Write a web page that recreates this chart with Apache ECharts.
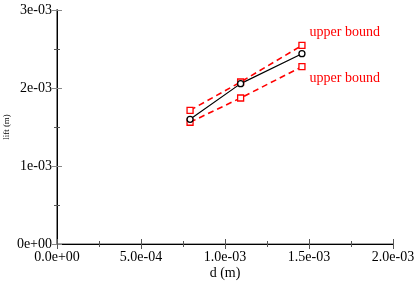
<!DOCTYPE html>
<html><head><meta charset="utf-8">
<script src="https://cdn.jsdelivr.net/npm/echarts@6/dist/echarts.min.js"></script>
<style>html,body{margin:0;padding:0;background:#fff}#c{width:415px;height:281px}</style>
</head><body><div id="c"></div>
<script>
const dValues = [7.92e-4, 1.093e-3, 1.458e-3];
const liftMean = [1.599e-3, 2.056e-3, 2.440e-3];
const liftUpper = [1.714e-3, 2.077e-3, 2.546e-3];
const liftLower = [1.561e-3, 1.872e-3, 2.273e-3];
const xTickLabels = ['0.0e+00', '5.0e-04', '1.0e-03', '1.5e-03', '2.0e-03'];
const yTickLabels = ['0e+00', '1e-03', '2e-03', '3e-03'];
const boundLabels = ['upper bound', 'upper bound'];

const font = 'Liberation Serif';
const chart = echarts.init(document.getElementById('c'));
function pairs(ys){ return dValues.map((d,i)=>[d, ys[i]]); }
const baseX = {
  type:'value', min:0, max:2e-3, interval:5e-4,
  axisTick:{show:true, inside:true, length:5, lineStyle:{color:'#555'}},
  minorTick:{show:true, splitNumber:2, length:3, lineStyle:{color:'#555'}},
  splitLine:{show:false}, minorSplitLine:{show:false}
};
const baseY = {
  type:'value', min:0, max:3e-3, interval:1e-3,
  axisTick:{show:true, inside:true, length:5, lineStyle:{color:'#888'}},
  minorTick:{show:true, splitNumber:2, length:3, lineStyle:{color:'#555'}},
  splitLine:{show:false}, minorSplitLine:{show:false}
};
chart.setOption({
  animation:false,
  backgroundColor:'#fff',
  grid:{left:57, right:22, top:10, bottom:37, containLabel:false, outerBoundsMode:'none'},
  xAxis:[
    Object.assign({}, baseX, {position:'bottom', name:'d (m)', nameLocation:'middle', nameGap:22,
      nameMoveOverlap:false,
      nameTextStyle:{fontFamily:font, fontSize:14, color:'#000'},
      axisLine:{lineStyle:{color:'#888', width:1.5}},
      axisLabel:{fontFamily:font, fontSize:14, color:'#000', margin:6,
        formatter:(v)=>xTickLabels[Math.round(v/5e-4)]}}),
    Object.assign({}, baseX, {position:'top', axisLine:{lineStyle:{color:'#000', width:1}},
      axisLabel:{show:false}})
  ],
  yAxis:[
    Object.assign({}, baseY, {position:'left', name:'lift (m)', nameLocation:'middle', nameGap:46,
      nameMoveOverlap:false,
      nameTextStyle:{fontFamily:font, fontSize:9, color:'#000'},
      axisLine:{lineStyle:{color:'#888', width:2}},
      axisLabel:{fontFamily:font, fontSize:14, color:'#000', margin:5, padding:[0,0,6,0],
        formatter:(v)=>yTickLabels[Math.round(v/1e-3)]}}),
    Object.assign({}, baseY, {position:'right', axisLine:{lineStyle:{color:'#000', width:1}},
      axisLabel:{show:false}})
  ],
  series:[
    {type:'line', data:pairs(liftUpper), symbol:'rect', symbolSize:6,
      itemStyle:{color:'#fff', borderColor:'#f00', borderWidth:1.3},
      lineStyle:{color:'#f00', width:1.6, type:[6,4]},
      label:{show:true, formatter:(p)=>p.dataIndex===2?boundLabels[0]:'', position:'right',
        offset:[-1,-13], fontFamily:font, fontSize:14, color:'#f00'}},
    {type:'line', data:pairs(liftLower), symbol:'rect', symbolSize:6,
      itemStyle:{color:'#fff', borderColor:'#f00', borderWidth:1.3},
      lineStyle:{color:'#f00', width:1.6, type:[6,4]},
      label:{show:true, formatter:(p)=>p.dataIndex===2?boundLabels[1]:'', position:'right',
        offset:[-1,12], fontFamily:font, fontSize:14, color:'#f00'}},
    {type:'line', data:pairs(liftMean), symbol:'circle', symbolSize:6,
      itemStyle:{color:'#fff', borderColor:'#000', borderWidth:1.3},
      lineStyle:{color:'#000', width:1.2}}
  ]
});
</script></body></html>
